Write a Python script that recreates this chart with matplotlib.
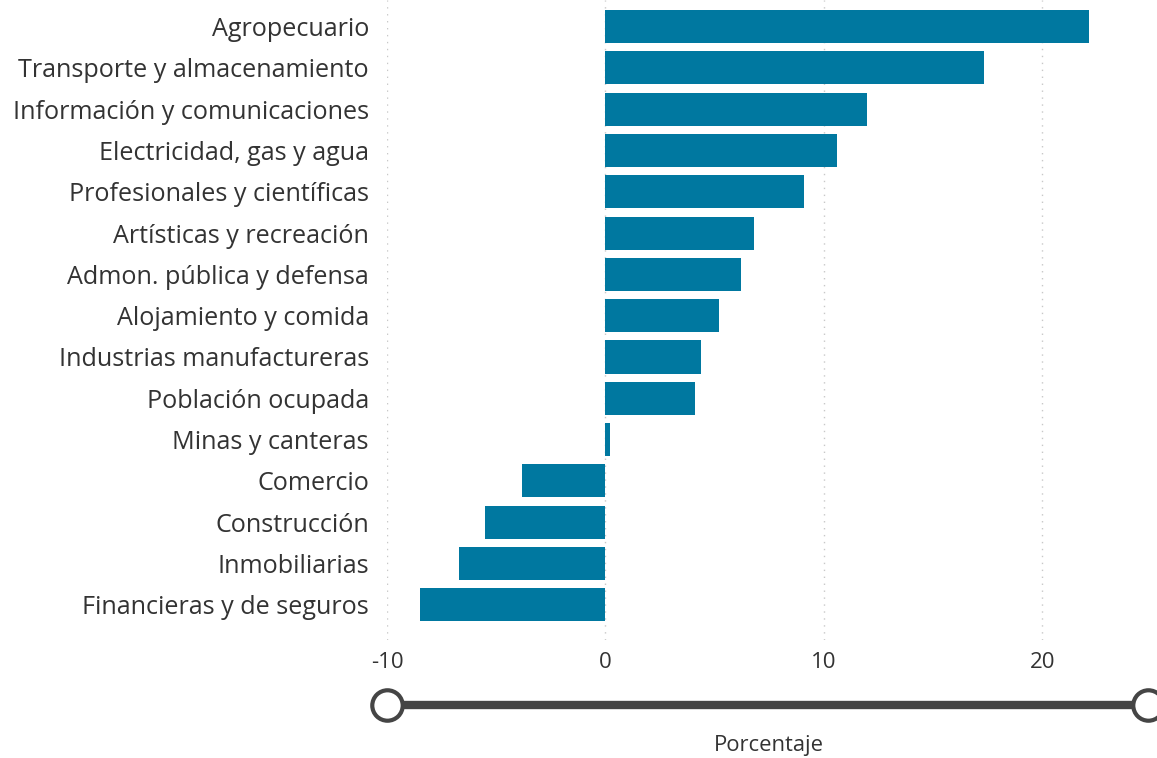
import numpy as np
import matplotlib.pyplot as plt

plt.rcParams['font.family'] = ['Open Sans', 'DejaVu Sans']

sectores = ["Agropecuario", "Transporte y almacenamiento", "Información y comunicaciones",
            "Electricidad, gas y agua", "Profesionales y científicas", "Artísticas y recreación",
            "Admon. pública y defensa", "Alojamiento y comida", "Industrias manufactureras",
            "Población ocupada", "Minas y canteras", "Comercio", "Construcción",
            "Inmobiliarias", "Financieras y de seguros"]
valores = [22.15, 17.35, 12.0, 10.6, 9.1, 6.8, 6.2, 5.2, 4.4, 4.1, 0.2, -3.8, -5.5, -6.7, -8.5]
ticks = [-10, 0, 10, 20]

W, H = 1157, 758
fig = plt.figure(figsize=(W / 100, H / 100), dpi=100)
ax = fig.add_axes([387 / W, 1 - 640 / H, 1 - 387 / W, 640 / H])

y = np.arange(len(sectores))
ax.barh(y, valores, height=0.8, color='#0078A0', zorder=3)
ax.set_yticks(y)
ax.set_yticklabels(sectores, fontsize=18.1, color='#333333')
ax.set_ylim(14.85, -0.64)
ax.set_xlim(-10, 25.26)
ax.set_xticks(ticks)
ax.set_xticklabels([str(t) for t in ticks], fontsize=16, color='#333333')
ax.tick_params(length=0, pad=9)
ax.tick_params(axis='y', pad=13)
ax.grid(axis='x', color='#c8c8c8', linestyle=(0, (1, 4)), linewidth=1, zorder=0)
for s in ax.spines.values():
    s.set_visible(False)

# slider
sx = fig.add_axes([0, 1 - 720 / H, 1, 30 / H])
sx.set_xlim(0, W)
sx.set_ylim(0, 30)
sx.axis('off')
sx.plot([387, 1148], [15, 15], color='#454545', linewidth=6, solid_capstyle='butt', zorder=1)
sx.scatter([387, 1148], [15, 15], s=480, facecolor='white', edgecolor='#454545',
           linewidth=3, zorder=2, clip_on=False)

fig.text(769 / W, 1 - 745 / H, "Porcentaje", ha='center', va='center', fontsize=15.8, color='#333333')

fig.savefig('out.png', dpi=100)
